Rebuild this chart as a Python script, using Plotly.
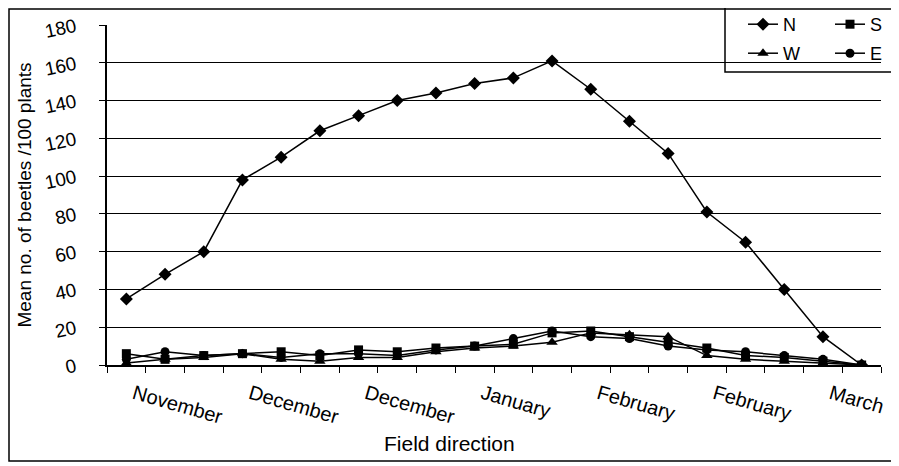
import plotly.graph_objects as go

periods = list(range(1, 21))
tick_pos = [1, 4, 7, 10, 13, 16, 19]
tick_text = ["November", "December", "December", "January", "February", "February", "March"]

N = [35, 48, 60, 98, 110, 124, 132, 140, 144, 149, 152, 161, 146, 129, 112, 81, 65, 40, 15, 0]
S = [6, 3, 5, 6, 7, 5, 8, 7, 9, 10, 11, 17, 18, 15, 12, 9, 5, 4, 2, 0]
W = [1, 3, 4, 6, 3, 2, 4, 4, 7, 9, 10, 12, 17, 16, 15, 5, 3, 2, 1, 0]
E = [3, 7, 5, 6, 4, 6, 6, 5, 8, 10, 14, 18, 15, 14, 10, 8, 7, 5, 3, 0]

FONT = "Liberation Sans, Arial, sans-serif"
OFF = 8  # default page body margin
W_PX, H_PX = 899 - OFF, 466 - OFF
L, R, T, B = 107 - OFF, 18, 25 - OFF, 101
pw = W_PX - L - R
ph = H_PX - T - B

def px(xp):  # page pixel -> paper x
    return (xp - OFF - L) / pw

def py(yp):  # page pixel -> paper y
    return (H_PX - B - (yp - OFF)) / ph

fig = go.Figure()
series = [("N", N, "diamond", 10, "legend"), ("S", S, "square", 9, "legend"),
          ("W", W, "triangle-up", 10, "legend2"), ("E", E, "circle", 9, "legend2")]
for name, vals, sym, sz, lg in series:
    fig.add_trace(go.Scatter(
        x=periods, y=vals, name=name, mode="lines+markers",
        line=dict(color="black", width=1.5),
        marker=dict(symbol=sym, size=sz, color="black"),
        legend=lg,
    ))

leg_common = dict(orientation="h", xanchor="left", yanchor="top",
                  font=dict(size=18), bgcolor="rgba(0,0,0,0)",
                  entrywidth=42, entrywidthmode="pixels", tracegroupgap=0)

fig.update_layout(
    width=W_PX, height=H_PX,
    margin=dict(l=L, r=R, t=T, b=B, autoexpand=False),
    paper_bgcolor="white", plot_bgcolor="white",
    font=dict(family=FONT, color="black", size=16),
    legend=dict(x=px(743), y=py(6), **leg_common),
    legend2=dict(x=px(743), y=py(35), **leg_common),
    xaxis=dict(
        range=[0.5, 20.5], tickmode="array", tickvals=[p + 0.2 for p in tick_pos],
        ticktext=tick_text, ticklabelstandoff=8,
        tickangle=16, ticks="", showgrid=False, zeroline=False,
        showline=True, linecolor="black", linewidth=1.5,
        tickfont=dict(size=20),
        minor=dict(tick0=0.5, dtick=1, ticks="outside", ticklen=6,
                   tickcolor="black", tickwidth=1, showgrid=False),
    ),
    yaxis=dict(
        range=[0, 180], tickmode="array", tickvals=list(range(0, 181, 20)),
        ticks="outside", ticklen=6, tickcolor="black", tickwidth=1,
        tickangle=-12, tickfont=dict(size=19), ticklabelstandoff=20,
        showgrid=False, zeroline=False,
        showline=True, linecolor="black", linewidth=1.5,
        minor=dict(tickmode="array", tickvals=list(range(20, 161, 20)), showgrid=True,
                   gridcolor="black", gridwidth=1, ticks=""),
        title=dict(text="Mean no. of beetles /100 plants", font=dict(size=19), standoff=6),
    ),
    annotations=[
        dict(text="Field direction", xref="paper", yref="paper",
             x=px(449), y=py(443), xanchor="center", yanchor="middle",
             showarrow=False, font=dict(size=21)),
    ],
    shapes=[
        dict(type="rect", xref="paper", yref="paper",
             x0=px(725), x1=px(892), y0=py(72), y1=py(5),
             line=dict(color="black", width=1.5)),
        dict(type="rect", xref="paper", yref="paper",
             x0=px(9), x1=px(893), y0=py(461), y1=py(9),
             line=dict(color="black", width=1.5)),
    ],
)

fig.write_html("out.html")
